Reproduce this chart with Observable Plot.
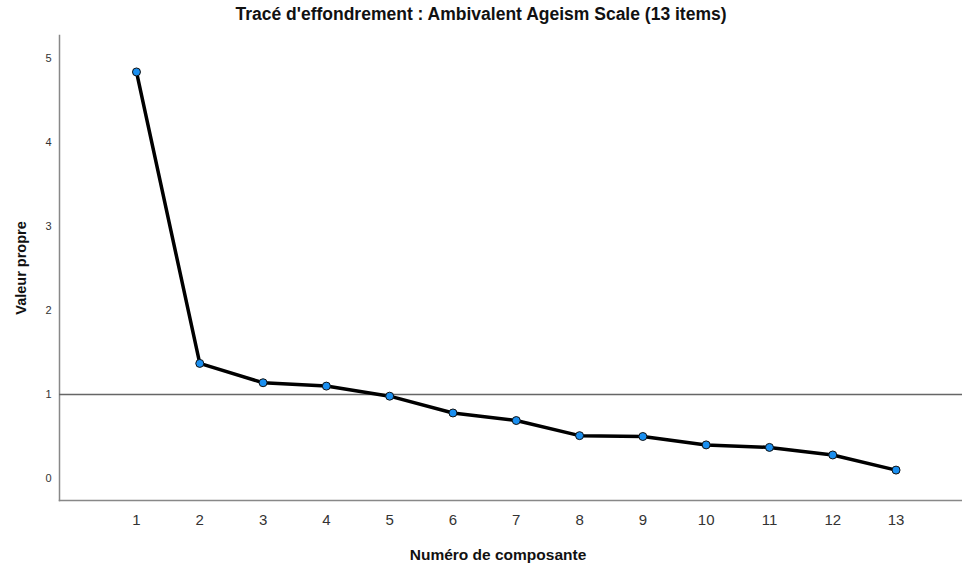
<!DOCTYPE html>
<html>
<head>
<meta charset="utf-8">
<script src="https://cdn.jsdelivr.net/npm/d3@7"></script>
<script src="https://cdn.jsdelivr.net/npm/@observablehq/plot@0.6"></script>
<style>
  html, body { margin: 0; padding: 0; background: #fff; }
  #title { height: 30px; line-height: 28px; text-align: center; font-family: "Liberation Sans", Arial, sans-serif; font-weight: bold; font-size: 17.5px; color: #111; box-sizing: border-box; }
  svg { display: block; }
</style>
</head>
<body>
<div id="title">Tracé d'effondrement : Ambivalent Ageism Scale (13 items)</div>
<div id="chart"></div>
<script>
const components = [1, 2, 3, 4, 5, 6, 7, 8, 9, 10, 11, 12, 13];
const eigenvalues = [4.84, 1.37, 1.14, 1.10, 0.98, 0.78, 0.69, 0.51, 0.50, 0.40, 0.37, 0.28, 0.10];
const yTicks = [0, 1, 2, 3, 4, 5];
const threshold = [1];
const xLabel = ["Numéro de composante"];

const data = components.map((c, i) => ({component: c, value: eigenvalues[i]}));

const chart = Plot.plot({
  width: 962,
  height: 533,
  marginLeft: 59,
  marginRight: 0,
  marginTop: 5,
  marginBottom: 63,
  style: {fontFamily: "Liberation Sans, Arial, sans-serif", background: "#fff"},
  x: {domain: [-0.216, 14.05]},
  y: {domain: [-0.262, 5.274]},
  marks: [
    Plot.frame({anchor: "left", stroke: "#888", strokeWidth: 1.5}),
    Plot.frame({anchor: "bottom", stroke: "#888", strokeWidth: 1.5}),
    Plot.axisY({ticks: yTicks, tickFormat: "d", tickSize: 0, tickPadding: 8, fontSize: 11, fill: "#333", label: null}),
    Plot.axisY({ticks: [], label: "Valeur propre", labelArrow: "none", labelAnchor: "center", labelOffset: 44, fontSize: 14.5, fontWeight: "bold", fill: "#111"}),
    Plot.axisX({ticks: components, tickFormat: "d", tickSize: 0, tickPadding: 14, fontSize: 15, fill: "#333", label: null}),
    Plot.text(xLabel, {text: d => d, frameAnchor: "bottom", dx: -13, dy: 59, fontSize: 15.5, fontWeight: "bold", fill: "#111"}),
    Plot.ruleY(threshold, {stroke: "#666", strokeWidth: 1.5}),
    Plot.line(data, {x: "component", y: "value", stroke: "#000", strokeWidth: 3.5}),
    Plot.dot(data, {x: "component", y: "value", r: 4, fill: "#1a8ff0", stroke: "#111", strokeWidth: 1})
  ]
});
document.getElementById("chart").appendChild(chart);
</script>
</body>
</html>
